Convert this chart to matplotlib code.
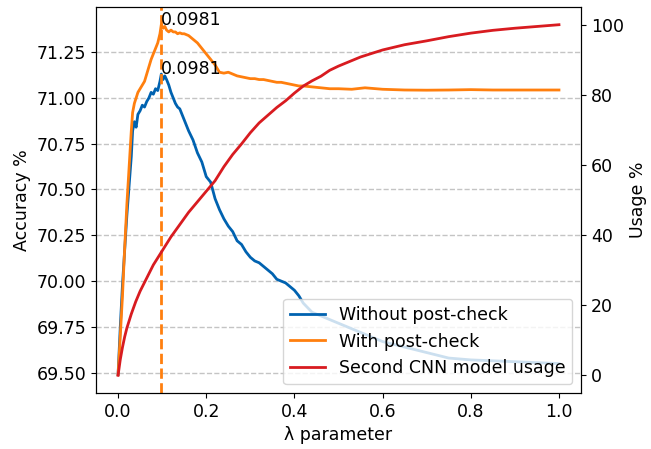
import numpy as np
import matplotlib
matplotlib.use("Agg")
import matplotlib.pyplot as plt

# lambda values (shared by the two accuracy curves)
lam = [0.0, 0.005, 0.01, 0.015, 0.02, 0.025, 0.03, 0.033, 0.037, 0.041, 0.045,
       0.05, 0.055, 0.06, 0.065, 0.07, 0.075, 0.08, 0.085, 0.09, 0.095, 0.0981,
       0.102, 0.106, 0.11, 0.115, 0.12, 0.125, 0.13, 0.135, 0.14, 0.145, 0.15,
       0.16, 0.17, 0.18, 0.19, 0.2, 0.21, 0.22, 0.23, 0.24, 0.25, 0.26, 0.27,
       0.28, 0.29, 0.3, 0.31, 0.32, 0.33, 0.34, 0.35, 0.36, 0.37, 0.38, 0.39,
       0.4, 0.41, 0.42, 0.44, 0.46, 0.48, 0.5, 0.53, 0.56, 0.6, 0.65, 0.7,
       0.75, 0.8, 0.85, 0.9, 0.95, 1.0]

acc_without = [69.49, 69.75, 69.98, 70.17, 70.36, 70.52, 70.68, 70.82, 70.87, 70.84, 70.91,
               70.93, 70.96, 70.95, 70.98, 71.00, 71.03, 71.02, 71.05, 71.04, 71.09, 71.13,
               71.10, 71.12, 71.10, 71.07, 71.03, 71.00, 70.97, 70.95, 70.94, 70.91, 70.88,
               70.82, 70.77, 70.70, 70.65, 70.57, 70.54, 70.45, 70.39, 70.34, 70.30, 70.27, 70.22,
               70.20, 70.16, 70.13, 70.11, 70.10, 70.08, 70.06, 70.04, 70.01, 70.00, 69.99, 69.97,
               69.95, 69.92, 69.88, 69.83, 69.81, 69.79, 69.77, 69.74, 69.71, 69.67, 69.64, 69.61,
               69.58, 69.57, 69.565, 69.56, 69.555, 69.55]

acc_with = [69.49, 69.70, 69.92, 70.18, 70.42, 70.62, 70.82, 70.92, 70.97, 71.00, 71.03,
            71.05, 71.07, 71.09, 71.13, 71.17, 71.21, 71.24, 71.27, 71.30, 71.35, 71.40,
            71.38, 71.39, 71.37, 71.36, 71.37, 71.36, 71.36, 71.35, 71.355, 71.35, 71.35,
            71.34, 71.32, 71.30, 71.27, 71.24, 71.21, 71.18, 71.14, 71.135, 71.14, 71.13, 71.12,
            71.115, 71.11, 71.105, 71.105, 71.10, 71.10, 71.095, 71.09, 71.085, 71.085, 71.08, 71.075,
            71.07, 71.065, 71.065, 71.06, 71.055, 71.05, 71.05, 71.047, 71.055, 71.047, 71.043, 71.042,
            71.043, 71.045, 71.043, 71.043, 71.043, 71.043]

# second CNN model usage (%)
lam_usage = [0.0, 0.005, 0.01, 0.015, 0.02, 0.03, 0.04, 0.05, 0.06, 0.07, 0.08, 0.09,
             0.1, 0.12, 0.14, 0.16, 0.18, 0.2, 0.22, 0.24, 0.26, 0.28, 0.3, 0.32,
             0.34, 0.36, 0.38, 0.4, 0.42, 0.44, 0.46, 0.48, 0.5, 0.55, 0.6, 0.65,
             0.7, 0.75, 0.8, 0.85, 0.9, 0.95, 1.0]
usage = [0.0, 4.5, 8.0, 11.0, 13.5, 17.5, 21.0, 24.0, 26.5, 29.0, 31.5, 33.5,
         35.5, 39.5, 43.0, 46.5, 49.5, 52.5, 55.5, 59.5, 63.0, 66.0, 69.2, 72.0,
         74.2, 76.4, 78.3, 80.5, 82.5, 84.0, 85.3, 87.0, 88.2, 90.8, 92.8, 94.3,
         95.4, 96.6, 97.6, 98.4, 99.0, 99.5, 100.0]

best_lam = 0.0981

plt.rcParams['font.size'] = 12.5

fig = plt.figure(figsize=(6.51, 4.49), dpi=100)
ax = fig.add_axes([0.1475, 0.125, 0.745, 0.859])
ax.grid(axis='y', linestyle='--', color='#c4c4c4', linewidth=1)
ax.set_axisbelow(True)

l1, = ax.plot(lam, acc_without, color='#0062b0', lw=2, label='Without post-check')
l2, = ax.plot(lam, acc_with, color='#ff7f0e', lw=2, label='With post-check')
ax.axvline(best_lam, color='#ff7f0e', lw=2, linestyle='--')
ax.text(best_lam, max(acc_with), '0.0981')
ax.text(best_lam, max(acc_without), '0.0981')

ax.set_xlim(-0.05, 1.05)
ax.set_ylim(69.39, 71.495)
ax.set_xticks([0.0, 0.2, 0.4, 0.6, 0.8, 1.0])
ax.set_yticks([69.5, 69.75, 70.0, 70.25, 70.5, 70.75, 71.0, 71.25])
ax.set_xlabel('λ parameter')
ax.set_ylabel('Accuracy %')

ax2 = ax.twinx()
l3, = ax2.plot(lam_usage, usage, color='#d81b20', lw=2, label='Second CNN model usage')
ax2.set_ylim(-5, 105)
ax2.set_yticks([0, 20, 40, 60, 80, 100])
ax2.set_ylabel('Usage %')

ax2.legend(handles=[l1, l2, l3], loc='lower right')

fig.savefig('out.png', dpi=100)
